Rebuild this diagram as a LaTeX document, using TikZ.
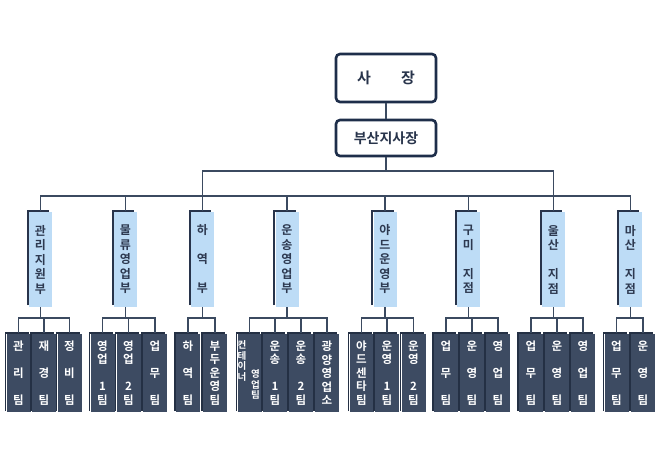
\documentclass[tikz,border=0pt]{standalone}
\usepackage{fontspec}
\newfontfamily\kr{Noto Sans CJK KR}[BoldFont={Noto Sans CJK KR Bold}]
\definecolor{linec}{RGB}{59,74,96}
\definecolor{topc}{RGB}{30,46,74}
\definecolor{toptxt}{RGB}{40,52,75}
\definecolor{deptfill}{RGB}{189,220,246}
\definecolor{deptedge}{RGB}{40,52,75}
\definecolor{teamfill}{RGB}{61,75,98}
\definecolor{teamedge}{RGB}{36,48,68}
\definecolor{depttxt}{RGB}{45,57,80}
\tikzset{
  topbox/.style={draw=topc, line width=2.6pt, rounded corners=4pt, fill=white,
    minimum width=100pt, text=toptxt, font=\kr\bfseries\fontsize{15}{17}\selectfont, inner sep=0pt},
  dept/.style={fill=deptfill, minimum width=23pt, minimum height=95pt, inner sep=0pt,
    align=center, text=depttxt, font=\kr\bfseries\fontsize{12}{14.5}\selectfont},
  deptl/.style={draw=deptedge, line width=2pt},
  team/.style={fill=teamfill, minimum width=24pt, minimum height=78pt, inner sep=0pt,
    align=center, text=white, font=\kr\bfseries\fontsize{11.5}{13.5}\selectfont},
  teaml/.style={draw=teamedge, line width=1.6pt},
  small/.style={inner sep=0pt, align=center, text=white, font=\kr\bfseries\fontsize{9.5}{10.5}\selectfont},
  conn/.style={draw=linec, line width=1.3pt},
}
\newcommand\deptbox[3]{%
  \node[dept] (#1) at (#2,259.5) {#3};
  \draw[deptl] ([xshift=-1pt,yshift=2pt]#1.south west) -- ([xshift=-1pt,yshift=1pt]#1.north west) -- ([xshift=-3pt,yshift=1pt]#1.north east);
}
\newcommand\teambox[3]{%
  \node[team] (#1) at (#2,373) {#3};
  \draw[teaml] ([xshift=-0.8pt,yshift=1pt]#1.south west) -- ([xshift=-0.8pt,yshift=0.8pt]#1.north west) -- ([xshift=-2pt,yshift=0.8pt]#1.north east);
}
\begin{document}
\begin{tikzpicture}[x=1pt,y=-1pt]
\useasboundingbox (0,0) rectangle (660,459);
\fill[white] (0,0) rectangle (660,459);
% top boxes
\node[topbox, minimum height=48pt] (ceo) at (386,78) {사\hspace{2em}장};
\node[topbox, minimum height=36pt, font=\kr\bfseries\fontsize{14}{16}\selectfont] (busan) at (386,138) {부산지사장};
\coordinate (top) at (0,171);
\coordinate (bus) at (0,196);
\coordinate (tbus) at (0,318);
% departments
\deptbox{d1}{40.5}{관\\리\\지\\원\\부}
\deptbox{d2}{125.5}{물\\류\\영\\업\\부}
\deptbox{d3}{202.5}{하\\~\\역\\~\\부}
\deptbox{d4}{287}{운\\송\\영\\업\\부}
\deptbox{d5}{385}{야\\드\\운\\영\\부}
\deptbox{d6}{468.5}{구\\미\\~\\지\\점}
\deptbox{d7}{553.5}{울\\산\\~\\지\\점}
\deptbox{d8}{630.5}{마\\산\\~\\지\\점}
% teams
\teambox{t11}{18.5}{관\\~\\리\\~\\팀}
\teambox{t12}{44}{재\\~\\경\\~\\팀}
\teambox{t13}{69.5}{정\\~\\비\\~\\팀}
\teambox{t21}{102.5}{영\\업\\~\\1\\팀}
\teambox{t22}{128.5}{영\\업\\~\\2\\팀}
\teambox{t23}{155}{업\\~\\무\\~\\팀}
\teambox{t31}{188}{하\\~\\역\\~\\팀}
\teambox{t32}{215}{부\\두\\운\\영\\팀}
\teambox{t41}{249.5}{}
\node[small] (t41a) at (242,361) {컨\\테\\이\\너};
\node[small] (t41b) at (255.5,384.5) {영\\업\\팀};
\teambox{t42}{275}{운\\송\\~\\1\\팀}
\teambox{t43}{301}{운\\송\\~\\2\\팀}
\teambox{t44}{327}{광\\양\\영\\업\\소}
\teambox{t51}{361.5}{야\\드\\센\\타\\팀}
\teambox{t52}{387}{운\\영\\~\\1\\팀}
\teambox{t53}{413.5}{운\\영\\~\\2\\팀}
\teambox{t61}{446}{업\\~\\무\\~\\팀}
\teambox{t62}{472}{운\\~\\영\\~\\팀}
\teambox{t63}{498}{영\\~\\업\\~\\팀}
\teambox{t71}{531}{업\\~\\무\\~\\팀}
\teambox{t72}{557}{운\\~\\영\\~\\팀}
\teambox{t73}{583}{영\\~\\업\\~\\팀}
\teambox{t81}{616.5}{업\\~\\무\\~\\팀}
\teambox{t82}{643}{운\\~\\영\\~\\팀}
% connectors top
\draw[conn] (ceo.south) -- (busan.north);
\draw[conn] (busan.south) -- (busan.south |- top);
\draw[conn] ([yshift=1pt]d3.north) -- (d3.north |- top) -- (d7.north |- top) -- ([yshift=1pt]d7.north);
\draw[conn] ([yshift=1pt]d1.north) -- (d1.north |- bus) -- (d8.north |- bus) -- ([yshift=1pt]d8.north);
\foreach \d in {d2,d4,d5,d6}
  \draw[conn] (\d.north |- bus) -- ([yshift=1pt]\d.north);
% connectors to teams
\foreach \d/\a/\b in {d1/t11/t13, d2/t21/t23, d3/t31/t32, d4/t41/t44, d5/t51/t53, d6/t61/t63, d7/t71/t73, d8/t81/t82}{
  \draw[conn] (\d.south) -- (\d.south |- tbus);
  \draw[conn] ([yshift=1pt]\a.north) -- (\a.north |- tbus) -- (\b.north |- tbus) -- ([yshift=1pt]\b.north);
}
\foreach \t in {t12,t22,t42,t43,t52,t62,t72}
  \draw[conn] (\t.north |- tbus) -- ([yshift=1pt]\t.north);
\end{tikzpicture}
\end{document}
